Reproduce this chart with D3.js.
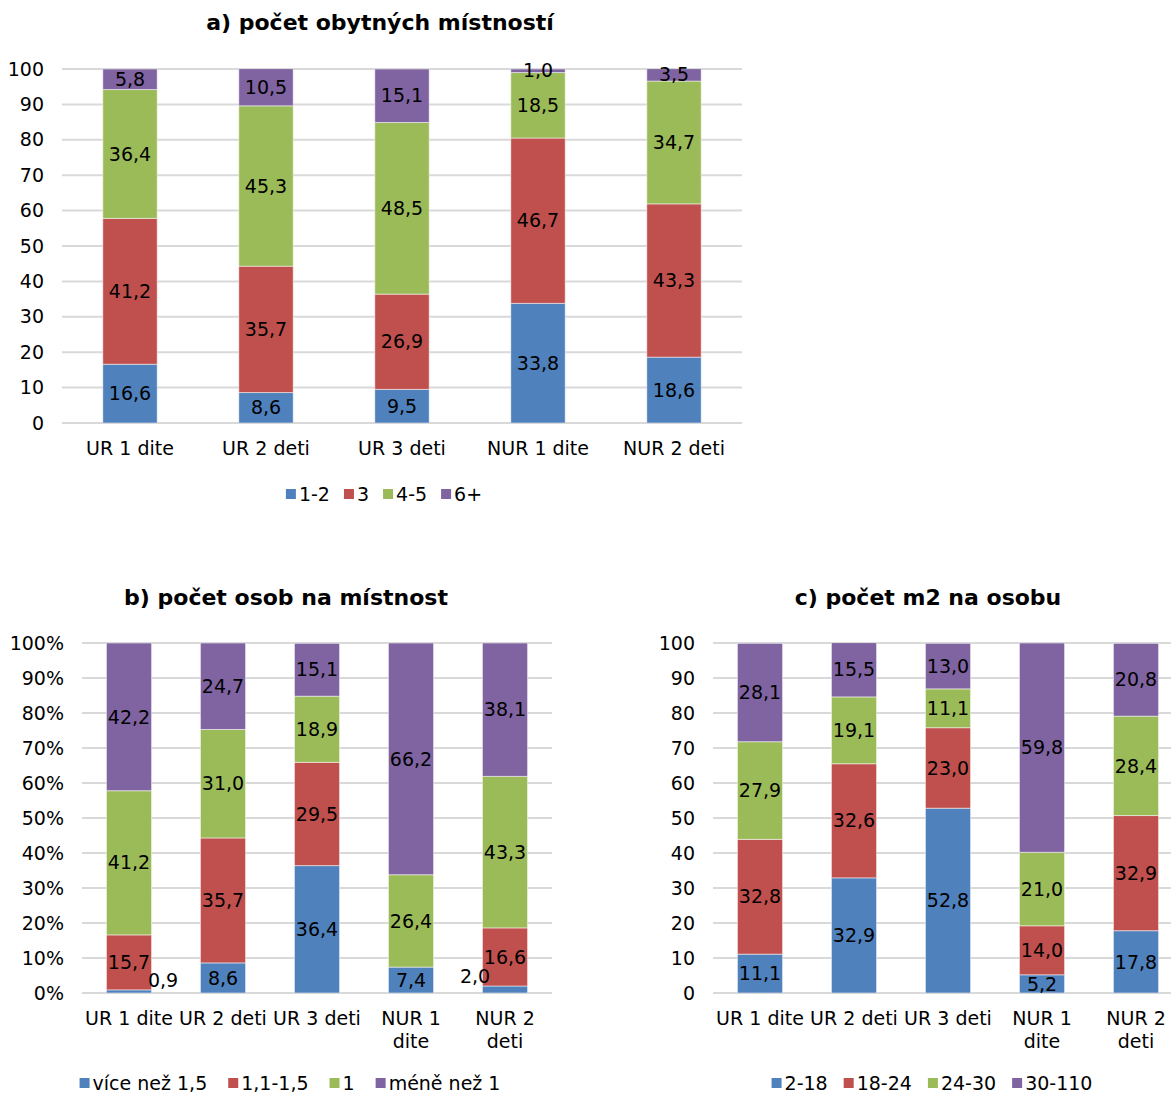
<!DOCTYPE html>
<html><head><meta charset="utf-8">
<script src="https://cdn.jsdelivr.net/npm/d3@7"></script>
<style>body{margin:0;background:#fff}svg{display:block}text{font-family:"DejaVu Sans",Verdana,sans-serif;fill:#000}</style>
</head><body>
<svg id="c" width="1171" height="1096"></svg>
<script>
const categories = ["UR 1 dite","UR 2 deti","UR 3 deti","NUR 1 dite","NUR 2 deti"];
const ticksA = [0,10,20,30,40,50,60,70,80,90,100];
const ticksB = ["0%","10%","20%","30%","40%","50%","60%","70%","80%","90%","100%"];
const ticksC = [0,10,20,30,40,50,60,70,80,90,100];

const seriesA = ["1-2","3","4-5","6+"];
const a_12 = [16.6, 8.6, 9.5, 33.8, 18.6];
const a_3 = [41.2, 35.7, 26.9, 46.7, 43.3];
const a_45 = [36.4, 45.3, 48.5, 18.5, 34.7];
const a_6 = [5.8, 10.5, 15.1, 1.0, 3.5];

const seriesB = ["více než 1,5","1,1-1,5","1","méně než 1"];
const b_v15 = [0.9, 8.6, 36.4, 7.4, 2.0];
const b_1115 = [15.7, 35.7, 29.5, 0, 16.6];
const b_1 = [41.2, 31.0, 18.9, 26.4, 43.3];
const b_m1 = [42.2, 24.7, 15.1, 66.2, 38.1];

const seriesC = ["2-18","18-24","24-30","30-110"];
const c_218 = [11.1, 32.9, 52.8, 5.2, 17.8];
const c_1824 = [32.8, 32.6, 23.0, 14.0, 32.9];
const c_2430 = [27.9, 19.1, 11.1, 21.0, 28.4];
const c_30110 = [28.1, 15.5, 13.0, 59.8, 20.8];

const colors = ["#4F81BD","#C0504D","#9BBB59","#8064A2"];
const svg = d3.select("#c");
const FS = 19;

function fmt(v){ return v.toFixed(1).replace(".", ","); }

function drawChart(cfg){
  const g = svg.append("g");
  const x = d3.scaleBand().domain(categories).range([cfg.left, cfg.left + cfg.step*categories.length]).paddingInner(cfg.pad).paddingOuter(cfg.pad/2);
  const y = d3.scaleLinear().domain([0,100]).range([cfg.bottom, cfg.top]);
  const clipId = "clip" + cfg.id;
  svg.append("clipPath").attr("id", clipId).append("rect").attr("x", 0).attr("y", cfg.top).attr("width", 1171).attr("height", cfg.bottom - cfg.top);
  g.selectAll("line.grid").data(cfg.tickVals).join("line")
    .attr("x1", cfg.left).attr("x2", Math.min(1171, cfg.left + cfg.step*categories.length))
    .attr("y1", d=>y(d)).attr("y2", d=>y(d))
    .attr("stroke", "#D9D9D9").attr("stroke-width", 2);
  g.selectAll("text.tick").data(cfg.tickVals).join("text")
    .attr("x", cfg.left - 18).attr("y", d=>y(d)).attr("dy","0.35em")
    .attr("text-anchor","end").attr("font-size", FS).text((d,i)=>cfg.tickLabels[i]);
  const rows = categories.map((c,i)=>{ const o={cat:c}; cfg.series.forEach((s,k)=>o[s]=cfg.values[k][i]); return o; });
  const stack = d3.stack().keys(cfg.series)(rows);
  const bars = g.append("g").attr("clip-path", `url(#${clipId})`);
  stack.forEach((layer,k)=>{
    bars.selectAll(null).data(layer).join("rect")
      .attr("x", d=>x(d.data.cat)).attr("width", x.bandwidth())
      .attr("y", d=>y(d[1])).attr("height", d=>Math.max(0, y(d[0]) - y(d[1])))
      .attr("fill", colors[k]).attr("stroke", "rgba(255,255,255,0.5)").attr("stroke-width", 1);
  });
  stack.forEach((layer,k)=>{
    layer.forEach((d,i)=>{
      const v = cfg.values[k][i];
      if (v <= 0) return;
      let lx = x(d.data.cat) + x.bandwidth()/2;
      let ly = y((d[0]+d[1])/2);
      const nudge = (cfg.nudges||[]).find(n=>n.k===k && n.i===i);
      if (nudge){ lx += nudge.dx; ly += nudge.dy; }
      g.append("text").attr("x", lx).attr("y", ly).attr("dy","0.35em")
        .attr("text-anchor","middle").attr("font-size", FS).text(fmt(v));
    });
  });
  categories.forEach(c=>{
    const t = g.append("text").attr("x", x(c)+x.bandwidth()/2).attr("y", cfg.bottom + 25)
      .attr("text-anchor","middle").attr("font-size", FS);
    const words = c.split(" ");
    let line = [], lines = [];
    const tmp = t.append("tspan");
    words.forEach(w=>{
      const test = line.concat(w).join(" ");
      tmp.text(test);
      if (tmp.node().getComputedTextLength() > cfg.step && line.length){ lines.push(line.join(" ")); line=[w]; }
      else line.push(w);
    });
    lines.push(line.join(" "));
    tmp.remove();
    lines.forEach((l,j)=>t.append("tspan").attr("x", x(c)+x.bandwidth()/2).attr("dy", j===0?"0.35em":"1.22em").text(l));
  });
  g.append("text").attr("x", cfg.titleX).attr("y", cfg.titleY).attr("dy","0.35em")
    .attr("text-anchor","middle").attr("font-size", 22).attr("font-weight","bold").text(cfg.title);
  const lg = g.append("g");
  let cx = 0;
  cfg.series.forEach((s,k)=>{
    const it = lg.append("g").attr("transform", `translate(${cx},0)`);
    it.append("rect").attr("x",0).attr("y",-4).attr("width",10).attr("height",10).attr("fill",colors[k]);
    const tt = it.append("text").attr("x",13).attr("y",0).attr("dy","0.4em").attr("font-size",FS).text(s);
    cx += 13 + tt.node().getComputedTextLength() + cfg.legendGap;
  });
  const totalW = cx - cfg.legendGap;
  lg.attr("transform", `translate(${cfg.legendX - totalW/2},${cfg.legendY})`);
}

drawChart({id:"a", series:seriesA, values:[a_12,a_3,a_45,a_6], tickVals:ticksA, tickLabels:ticksA.map(String),
  left:62, step:136, pad:0.6, top:69, bottom:423, title:"a) počet obytných místností", titleX:380, titleY:22,
  legendX:384, legendY:493, legendGap:14});
drawChart({id:"b", series:seriesB, values:[b_v15,b_1115,b_1,b_m1], tickVals:ticksA, tickLabels:ticksB,
  left:82, step:94, pad:0.52, top:643, bottom:993, title:"b) počet osob na místnost", titleX:286, titleY:597,
  legendX:290, legendY:1082, legendGap:21, nudges:[{k:0,i:0,dx:34,dy:-11},{k:0,i:4,dx:-30,dy:-13}]});
drawChart({id:"cc", series:seriesC, values:[c_218,c_1824,c_2430,c_30110], tickVals:ticksC, tickLabels:ticksC.map(String),
  left:713, step:94, pad:0.52, top:643, bottom:993, title:"c) počet m2 na osobu", titleX:928, titleY:597,
  legendX:932, legendY:1082, legendGap:16});
</script>
</body></html>
